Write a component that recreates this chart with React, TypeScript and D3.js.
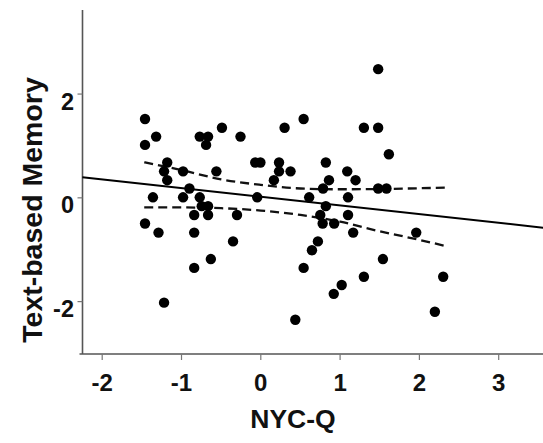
import React from "react";
import * as d3 from "d3";

const xValues = [
  -1.46, -1.32, -1.46, -0.77, -0.665, -0.69, -0.49, -0.256, -1.18, -1.22,
  -0.98, -0.56, -1.18, -0.9, -1.36, -0.98, -0.77, -0.745, -0.665, -0.84,
  -0.665, -0.3, -1.46, -1.29, -0.84, -0.35, -0.63, -0.84, -1.22, 0.3,
  0.54, -0.07, -0.005, 0.23, 0.23, 0.375, 0.165, 0.82, 0.86, 0.785,
  -0.045, 0.61, 0.82, 0.75, 0.78, 0.925, 0.72, 0.645, 0.54, 1.02,
  0.92, 0.435, 1.09, 1.195, 1.48, 1.3, 1.48, 1.615, 1.48, 1.585,
  1.1, 1.1, 1.165, 1.96, 1.54, 1.3, 2.3, 2.195,
];
const yValues = [
  1.52, 1.18, 1.02, 1.18, 1.18, 1.02, 1.35, 1.18, 0.68, 0.51,
  0.51, 0.51, 0.34, 0.18, 0.01, 0.01, 0.01, -0.16, -0.16, -0.33,
  -0.33, -0.33, -0.495, -0.67, -0.67, -0.84, -1.18, -1.35, -2.02, 1.35,
  1.52, 0.68, 0.68, 0.68, 0.51, 0.51, 0.34, 0.68, 0.34, 0.18,
  0.01, 0.01, -0.16, -0.33, -0.495, -0.495, -0.84, -1.01, -1.35, -1.68,
  -1.85, -2.35, 0.51, 0.34, 2.48, 1.35, 1.35, 0.84, 0.18, 0.18,
  0.01, -0.33, -0.67, -0.67, -1.18, -1.52, -1.52, -2.195,
];

const fitIntercept = 0.02;
const fitSlope = -0.167;
const fitXRange = [-2.25, 3.57];

const ciX = [-1.47, -1.0, -0.5, 0, 0.5, 1.0, 1.5, 2.0, 2.32];
const ciUpper = [0.685, 0.535, 0.355, 0.25, 0.18, 0.165, 0.17, 0.185, 0.195];
const ciLower = [-0.183, -0.185, -0.2, -0.245, -0.33, -0.46, -0.645, -0.81, -0.925];

const xTicks = [-2, -1, 0, 1, 2, 3];
const yTicks = [-2, 0, 2];
const xTitle = "NYC-Q";
const yTitle = "Text-based Memory";

export default function App() {
  const W = 543;
  const H = 443;
  const x = d3.scaleLinear().domain([-2.28, 3.57]).range([80, 543.9]);
  const y = d3.scaleLinear().domain([-3.0, 3.62]).range([353.5, 10]);
  const axisX = 82.5;
  const axisY = 354;
  const font = "'Liberation Sans', Arial, sans-serif";

  const line = d3
    .line<[number, number]>()
    .x((d) => x(d[0]))
    .y((d) => y(d[1]));
  const curve = d3
    .line<[number, number]>()
    .x((d) => x(d[0]))
    .y((d) => y(d[1]))
    .curve(d3.curveMonotoneX);

  const fitPts: [number, number][] = fitXRange.map((v) => [v, fitIntercept + fitSlope * v]);
  const upPts: [number, number][] = ciX.map((v, i) => [v, ciUpper[i]]);
  const loPts: [number, number][] = ciX.map((v, i) => [v, ciLower[i]]);

  return (
    <svg
      width={W}
      height={H}
      style={{ position: "absolute", left: 0, top: 0, background: "#fff" }}
      fontFamily={font}
    >
      <rect width={W} height={H} fill="#fff" />
      {/* axes */}
      <line x1={axisX} x2={axisX} y1={10} y2={axisY} stroke="#555" strokeWidth={1.6} />
      <line x1={79.5} x2={W} y1={axisY} y2={axisY} stroke="#555" strokeWidth={1.6} />
      {yTicks.map((t) => (
        <g key={"yt" + t}>
          <line x1={axisX - 5} x2={axisX} y1={y(t)} y2={y(t)} stroke="#777" strokeWidth={1.2} />
          <text
            x={74}
            y={y(t) + 15.5}
            textAnchor="end"
            fontSize={23.5}
            fontWeight="bold"
            fill="#111"
          >
            {t}
          </text>
        </g>
      ))}
      {xTicks.map((t) => (
        <g key={"xt" + t}>
          <line x1={x(t)} x2={x(t)} y1={axisY} y2={axisY + 6} stroke="#777" strokeWidth={1.2} />
          <text
            x={x(t)}
            y={391}
            textAnchor="middle"
            fontSize={24}
            fontWeight="bold"
            fill="#111"
          >
            {t}
          </text>
        </g>
      ))}
      <text x={293} y={428} textAnchor="middle" fontSize={26.5} fontWeight="bold" fill="#111">
        {xTitle}
      </text>
      <text
        transform={`translate(41.5,210) rotate(-90)`}
        textAnchor="middle"
        fontSize={28.5}
        fontWeight="bold"
        fill="#111"
      >
        {yTitle}
      </text>
      {/* fit & CI */}
      <path d={line(fitPts) || ""} fill="none" stroke="#000" strokeWidth={2} />
      <path d={curve(upPts) || ""} fill="none" stroke="#111" strokeWidth={2.3} strokeDasharray="9,5" />
      <path d={curve(loPts) || ""} fill="none" stroke="#111" strokeWidth={2.3} strokeDasharray="9,5" />
      {/* points */}
      {xValues.map((v, i) => (
        <circle key={i} cx={x(v)} cy={y(yValues[i])} r={5.2} fill="#000" />
      ))}
    </svg>
  );
}
